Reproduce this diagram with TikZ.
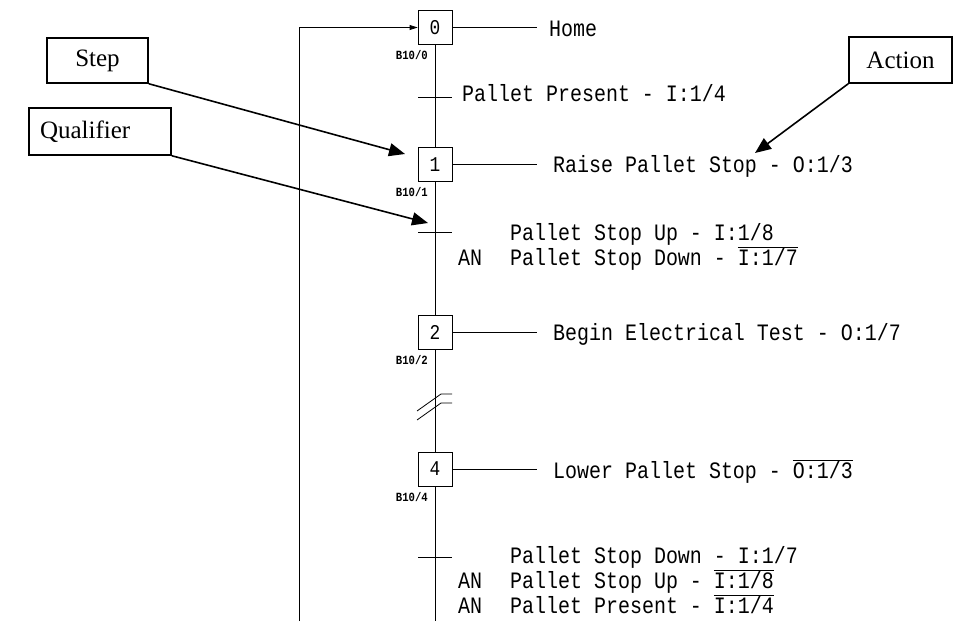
\documentclass[tikz,border=0pt]{standalone}
\usepackage{fontspec}
\newfontfamily\cadfont[FakeStretch=0.85]{Liberation Mono}
\newfontfamily\notefont{Liberation Serif}
\usetikzlibrary{arrows.meta}

\newcommand{\barsig}[1]{\setbox0\hbox{#1}\rlap{\rule[0.74em]{\wd0}{0.8pt}}\box0}

\begin{document}
\begin{tikzpicture}[x=1pt,y=-1pt,
  stepbox/.style={draw, line width=0.8pt, minimum size=34pt, inner sep=0pt, font=\cadfont\fontsize{21}{21}\selectfont},
  sfc/.style={line width=0.8pt},
  cadtext/.style={anchor=base west, inner sep=0pt, font=\cadfont\fontsize{23.5}{23.5}\selectfont},
  addr/.style={anchor=east, inner sep=0pt, font=\cadfont\bfseries\fontsize{12.5}{12.5}\selectfont},
  callout/.style={draw, line width=1.5pt, inner sep=0pt, font=\notefont\fontsize{25}{25}\selectfont},
  pointer/.style={line width=1.6pt, -{Triangle[length=16pt,width=13pt]}}]

\useasboundingbox (0,0) rectangle (979,621);

% steps and their addresses
\foreach \n/\y in {0/27.5,1/164.5,2/332,4/469} {
  \node[stepbox] (s\n) at (435,\y) {\n};
  \node[addr] (b\n) at (428,\y+28) {B10/\n};
}

% main line
\coordinate (bottom) at (435,621);
\draw[sfc] (s0) -- (s1);
\draw[sfc] (s1) -- (s2);
\draw[sfc] (s2) -- (s4);
\draw[sfc] (s4) -- (bottom);

% break in the line
\draw[sfc] (417,411) -- (441,394) -- (452,394);
\draw[sfc] (417,420) -- (441,403) -- (452,403);

% loop back to step 0
\coordinate (loopend) at (299,621);
\draw[sfc, -{Triangle[length=8pt,width=5pt]}] (loopend) |- (s0.west);

% transitions
\foreach \t/\y in {0/97,1/232,4/557} {
  \coordinate (t\t) at (435,\y);
  \draw[sfc] (t\t) +(-17,0) -- +(17,0);
}

% actions
\foreach \n in {0,1,2,4} {
  \coordinate (a\n) at (537,0 |- s\n);
  \draw[sfc] (s\n.east) -- (a\n);
}
\node[cadtext] (home) at (549,36) {Home};
\node[cadtext] (act1) at (553,172) {Raise Pallet Stop - O:1/3};
\node[cadtext] (act2) at (553,340) {Begin Electrical Test - O:1/7};
\node[cadtext] (act4) at (553,478) {Lower Pallet Stop - \barsig{O:1/3}};

% transition conditions
\node[cadtext] (cond0) at (462,101) {Pallet Present - I:1/4};
\node[cadtext] (cond1a) at (510,240) {Pallet Stop Up - I:1/8};
\node[cadtext] (and1) at (458,265) {AN};
\node[cadtext] (cond1b) at (510,265) {Pallet Stop Down - \barsig{I:1/7}};
\node[cadtext] (cond4a) at (510,563) {Pallet Stop Down - I:1/7};
\node[cadtext] (and4a) at (458,588) {AN};
\node[cadtext] (cond4b) at (510,588) {Pallet Stop Up - \barsig{I:1/8}};
\node[cadtext] (and4b) at (458,613) {AN};
\node[cadtext] (cond4c) at (510,613) {Pallet Present - \barsig{I:1/4}};

% callouts
\node[callout, minimum width=101pt, minimum height=45pt] (stepnote) at (97.5,60.5) {Step};
\node[callout, minimum height=47pt, text width=120pt, inner xsep=11pt, align=left] (qualnote) at (100,131.5) {Qualifier};
\node[callout, minimum width=103pt, minimum height=46pt] (actnote) at (900.5,60) {Action};

\coordinate (steptip) at (405,154);
\coordinate (qualtip) at (428,223);
\coordinate (acttip) at (755,153);
\draw[pointer] (stepnote.south east) -- (steptip);
\draw[pointer] (qualnote.south east) -- (qualtip);
\draw[pointer] (actnote.south west) -- (acttip);

\end{tikzpicture}
\end{document}
